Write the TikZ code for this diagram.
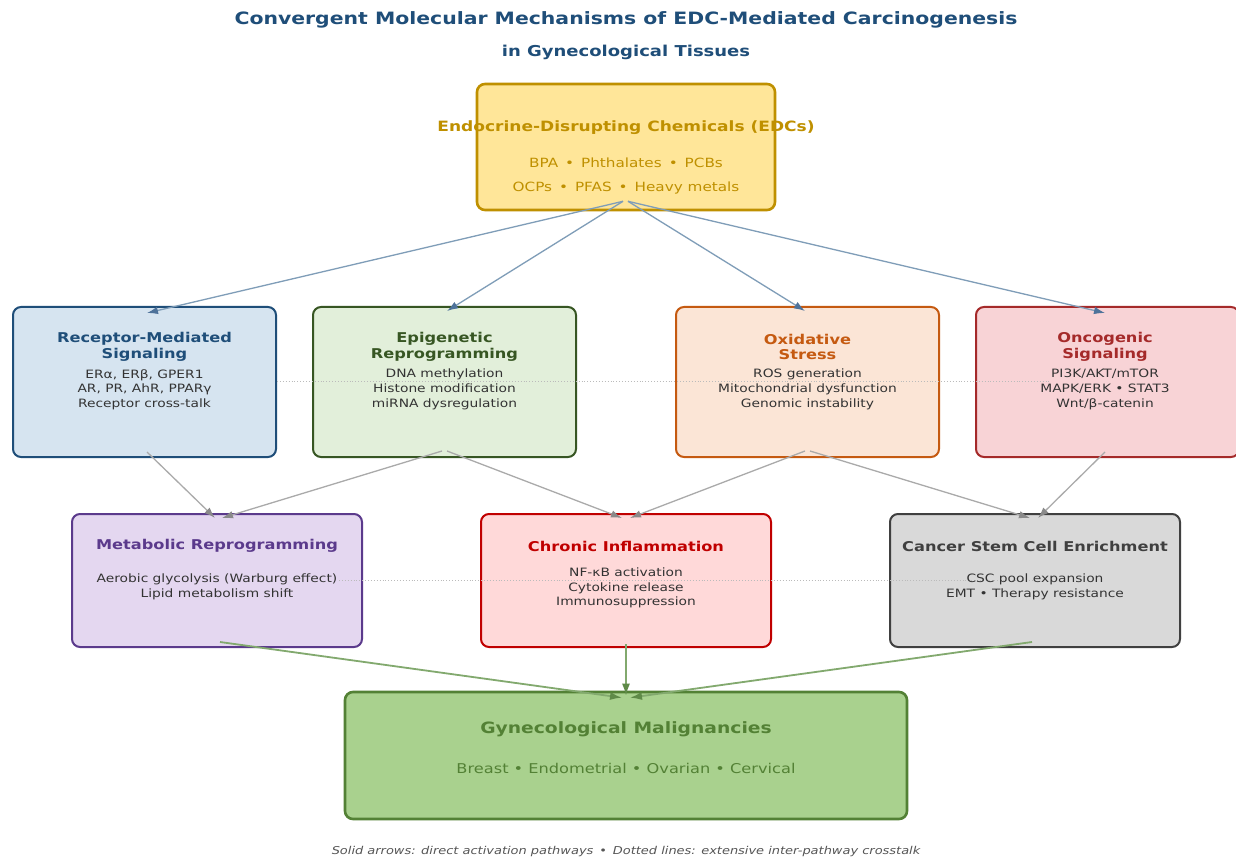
\documentclass[tikz,border=0pt]{standalone}
\usepackage{fontspec}
\setmainfont{DejaVu Sans}[FakeStretch=1.2]
\usetikzlibrary{arrows.meta,calc}
\newcommand{\fsz}[2]{\fontsize{#1}{#2}\selectfont}
\definecolor{titleC}{HTML}{1F4E79}
\definecolor{edcF}{HTML}{FFE699}
\definecolor{edcB}{HTML}{BF9000}
\definecolor{recF}{HTML}{D6E4F0}
\definecolor{recB}{HTML}{1F4E79}
\definecolor{epiF}{HTML}{E2EFDA}
\definecolor{epiB}{HTML}{375623}
\definecolor{oxiF}{HTML}{FBE5D6}
\definecolor{oxiB}{HTML}{C55A11}
\definecolor{oncF}{HTML}{F8D3D6}
\definecolor{oncB}{HTML}{A52A2A}
\definecolor{metF}{HTML}{E4D7F0}
\definecolor{metB}{HTML}{5B3A8C}
\definecolor{chrF}{HTML}{FFD9D9}
\definecolor{chrB}{HTML}{C00000}
\definecolor{cscF}{HTML}{D9D9D9}
\definecolor{cscB}{HTML}{404040}
\definecolor{botF}{HTML}{A9D18E}
\definecolor{botB}{HTML}{538135}
\definecolor{bodyC}{HTML}{333333}
\definecolor{footC}{HTML}{555555}
\definecolor{arrBlue}{HTML}{7F9DB8}
\definecolor{arrBlueH}{HTML}{4E729A}
\definecolor{arrGray}{HTML}{AAAAAA}
\definecolor{arrGrayH}{HTML}{8A8A8A}
\definecolor{arrGreen}{HTML}{82A96E}
\definecolor{arrGreenH}{HTML}{5F8A48}
\definecolor{crossC}{HTML}{BBBBBB}
\begin{document}
\begin{tikzpicture}[x=1pt,y=-1pt,
  box/.style={draw, rounded corners=8pt, inner sep=0pt, line width=2pt},
  rowtwo/.style={box, minimum width=263pt, minimum height=150pt},
  rowthree/.style={box, minimum width=290pt, minimum height=133pt},
  txt/.style={inner sep=0pt, align=center},
  btitle/.style={txt, font={\bfseries\fsz{13.5}{15.5}}},
  bbody/.style={txt, text=bodyC, font={\fsz{11.5}{14.7}}},
  toparr/.style={draw=arrBlue, line width=1.3pt, -{Latex[length=11pt,width=7.5pt,color=arrBlueH]}},
  midarr/.style={draw=arrGray, line width=1.3pt, -{Latex[length=11pt,width=7.5pt,color=arrGrayH]}},
  botarr/.style={draw=arrGreen, line width=1.8pt, -{Latex[length=12pt,width=8pt,color=arrGreenH]}},
  cross/.style={draw=crossC, line width=0.9pt, dotted}
]
\useasboundingbox (0,0) rectangle (1236,858);
\fill[white] (0,0) rectangle (1236,858);

% boxes
\node[box, draw=edcB, fill=edcF, line width=2.6pt, minimum width=298pt, minimum height=126pt] (edc) at (626,147) {};
\node[rowtwo, draw=recB, fill=recF] (rec) at (144.5,382) {};
\node[rowtwo, draw=epiB, fill=epiF] (epi) at (444.5,382) {};
\node[rowtwo, draw=oxiB, fill=oxiF] (oxi) at (807.5,382) {};
\node[rowtwo, draw=oncB, fill=oncF] (onc) at (1107.5,382) {};
\node[rowthree, draw=metB, fill=metF] (met) at (217,580.5) {};
\node[rowthree, draw=chrB, fill=chrF] (chr) at (626,580.5) {};
\node[rowthree, draw=cscB, fill=cscF] (csc) at (1035,580.5) {};
\node[box, draw=botB, fill=botF, line width=2.6pt, minimum width=562pt, minimum height=127pt] (bot) at (626,755.5) {};

% crosstalk (dotted)
\draw[cross] ([yshift=1pt]rec.east) -- ([xshift=-57pt,yshift=1pt]onc.center);
\draw[cross] ([xshift=122pt]met.center) -- (csc.center);

% arrows EDC -> row 2
\draw[toparr] ([xshift=-3pt,yshift=10pt]edc.south) -- ([xshift=2.5pt,yshift=-7pt]rec.north);
\draw[toparr] ([xshift=-3pt,yshift=10pt]edc.south) -- ([xshift=2.5pt,yshift=-5pt]epi.north);
\draw[toparr] ([xshift=2pt,yshift=10pt]edc.south) -- ([xshift=-2.5pt,yshift=-5pt]oxi.north);
\draw[toparr] ([xshift=2pt,yshift=10pt]edc.south) -- ([xshift=-2.5pt,yshift=-7pt]onc.north);

% arrows row 2 -> row 3
\draw[midarr] ([xshift=2.5pt,yshift=6pt]rec.south) -- ([xshift=-2pt,yshift=-5pt]met.north);
\draw[midarr] ([xshift=-2.5pt,yshift=7pt]epi.south) -- ([xshift=5pt,yshift=-5pt]met.north);
\draw[midarr] ([xshift=2.5pt,yshift=7pt]epi.south) -- ([xshift=-4pt,yshift=-5pt]chr.north);
\draw[midarr] ([xshift=-2.5pt,yshift=7pt]oxi.south) -- ([xshift=4pt,yshift=-5pt]chr.north);
\draw[midarr] ([xshift=2.5pt,yshift=7pt]oxi.south) -- ([xshift=-5pt,yshift=-5pt]csc.north);
\draw[midarr] ([xshift=-2.5pt,yshift=6pt]onc.south) -- ([xshift=3pt,yshift=-5pt]csc.north);

% arrows row 3 -> bottom
\draw[botarr] ([xshift=3pt,yshift=6pt]met.south) -- ([xshift=-4pt,yshift=-7pt]bot.north);
\draw[botarr] ([yshift=4pt]chr.south) -- ([yshift=-5pt]bot.north);
\draw[botarr] ([xshift=-3pt,yshift=6pt]csc.south) -- ([xshift=4pt,yshift=-7pt]bot.north);

% titles
\node[txt, text=titleC, font={\bfseries\fsz{17}{20}}] (t1) at (626,20) {Convergent Molecular Mechanisms of EDC-Mediated Carcinogenesis};
\node[txt, text=titleC, font={\bfseries\fsz{15}{18}}] (t2) at (626,52) {in Gynecological Tissues};

% EDC text
\node[txt, text=edcB, font={\bfseries\fsz{14.2}{17}}] (edct) at (626,128) {Endocrine-Disrupting Chemicals (EDCs)};
\node[txt, text=edcB, font={\fsz{12.7}{15}}] (edcb1) at (626,163) {BPA \,•\, Phthalates \,•\, PCBs};
\node[txt, text=edcB, font={\fsz{12.7}{15}}] (edcb2) at (626,188) {OCPs \,•\, PFAS \,•\, Heavy metals};

% row 2 text
\node[btitle, text=recB] (rect) at (144.5,347) {Receptor-Mediated\\Signaling};
\node[bbody] (recb) at (144.5,389.5) {ERα, ERβ, GPER1\\AR, PR, AhR, PPARγ\\Receptor cross-talk};
\node[btitle, text=epiB] (epit) at (444.5,347) {Epigenetic\\Reprogramming};
\node[bbody] (epib) at (444.5,389.5) {DNA methylation\\Histone modification\\miRNA dysregulation};
\node[btitle, text=oxiB] (oxit) at (807.5,347) {Oxidative\\Stress};
\node[bbody] (oxib) at (807.5,389.5) {ROS generation\\Mitochondrial dysfunction\\Genomic instability};
\node[btitle, text=oncB] (onct) at (1105,347) {Oncogenic\\Signaling};
\node[bbody] (oncb) at (1105,389.5) {PI3K/AKT/mTOR\\MAPK/ERK • STAT3\\Wnt/β-catenin};

% row 3 text
\node[btitle, text=metB] (mett) at (217,546) {Metabolic Reprogramming};
\node[bbody] (metb) at (217,587) {Aerobic glycolysis (Warburg effect)\\Lipid metabolism shift};
\node[btitle, text=chrB] (chrt) at (626,546) {Chronic Inflammation};
\node[bbody] (chrb) at (626,588) {NF-κB activation\\Cytokine release\\Immunosuppression};
\node[btitle, text=cscB] (csct) at (1035,546) {Cancer Stem Cell Enrichment};
\node[bbody] (cscb) at (1035,587) {CSC pool expansion\\EMT • Therapy resistance};

% bottom text
\node[txt, text=botB, font={\bfseries\fsz{15.6}{19}}] (bott) at (626,729) {Gynecological Malignancies};
\node[txt, text=botB, font={\fsz{13.5}{16}}] (botb) at (626,768) {Breast • Endometrial • Ovarian • Cervical};

% footer
\node[txt, text=footC, font={\itshape\fsz{10.8}{13}}] (foot) at (626,852) {Solid arrows: direct activation pathways \,•\, Dotted lines: extensive inter-pathway crosstalk};
\end{tikzpicture}
\end{document}
